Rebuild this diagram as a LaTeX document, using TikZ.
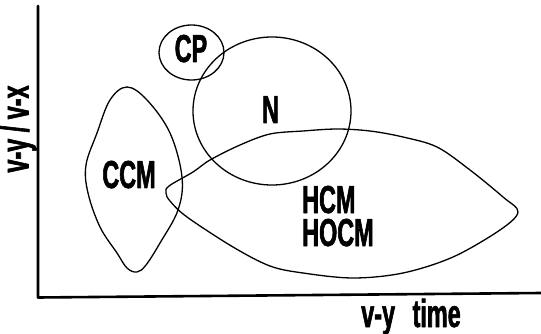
\documentclass[tikz,border=0pt]{standalone}
\usepackage{fontspec}
\newfontfamily\sketchfont[FakeStretch=0.6, FakeBold=1.5]{Liberation Sans}
\tikzset{
  every picture/.style={line join=round, line cap=round},
  axisline/.style={line width=2.6pt},
  region/.style={line width=1.3pt},
  tag/.style={font=\sketchfont\bfseries\fontsize{39}{39}\selectfont, inner sep=0pt},
  capstag/.style={tag, text height=27pt, text depth=0pt},
}

\begin{document}
\begin{tikzpicture}[x=1pt, y=-1pt]
    \useasboundingbox (0,0) rectangle (541,334);

    % Axes
    \coordinate (top) at (38,6);
    \coordinate (origin) at (38,297.5);
    \coordinate (xend) at (541,293);
    \draw[axisline] (top) -- (origin) -- (xend);
    \node[tag, rotate=90, anchor=base, text height=22pt, text depth=6pt] (ylab) at (28.5,129) {v-y / v-x};
    \node[tag, anchor=base] (xlab) at (411,327) {v-y\hspace{0.45em}time};

    % Regions
    \draw[region] (191.5,52.5) ellipse (32.5 and 27.5);
    \draw[region] (272,111) ellipse (79 and 74);
    \draw[region] plot[smooth cycle, tension=0.6] coordinates {
        (127,87) (147,100) (170,133) (182,177) (178,210) (160,243)
        (146,265) (137,272) (127,268) (117,253) (100,227) (88,193)
        (86,165) (97,133) (110,100)};
    \draw[region] plot[smooth cycle, tension=0.55] coordinates {
        (169,186) (193,172) (210,160) (240,145) (270,134) (303,131)
        (337,129) (370,131) (403,137) (437,147) (470,170) (503,197)
        (518,212) (500,230) (453,257) (403,273) (353,278) (303,273)
        (270,266) (233,247) (187,217) (170,201) (166,193)};

    % Labels
    \node[capstag, anchor=base] (cp) at (191,62) {CP};
    \node[capstag, anchor=base] (n) at (270.5,123) {N};
    \node[capstag, anchor=base] (ccm) at (129,188) {CCM};
    \node[capstag, anchor=base west] (hcm) at (302,213) {HCM};
    \node[capstag, anchor=base west] (hocm) at (302,246) {HOCM};
\end{tikzpicture}
\end{document}
